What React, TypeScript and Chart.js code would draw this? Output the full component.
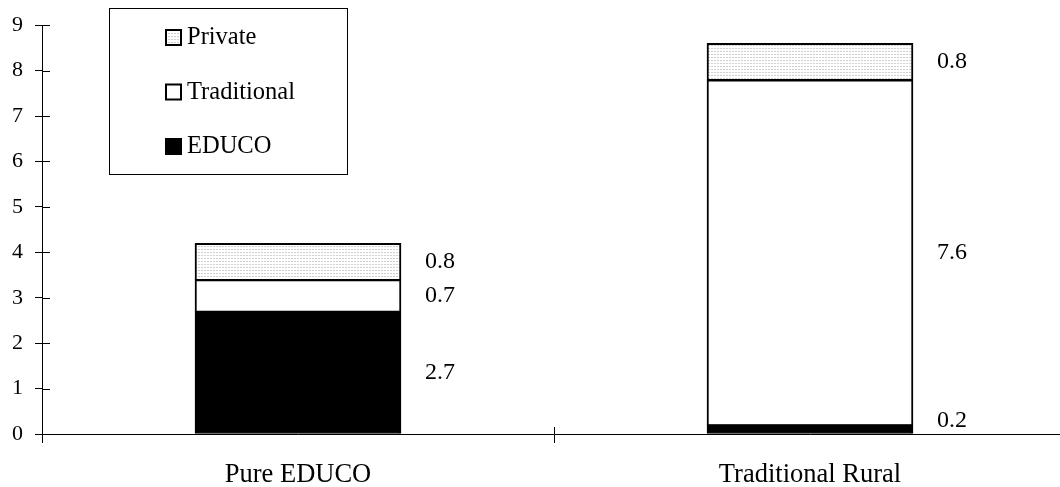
import React, { useEffect, useRef } from "react";
import { Chart, registerables } from "chart.js";

Chart.register(...registerables);

const categories = ["Pure EDUCO", "Traditional Rural"];
const educoValues = [2.7, 0.2];
const traditionalValues = [0.7, 7.6];
const privateValues = [0.8, 0.8];
const seriesNames = ["EDUCO", "Traditional", "Private"];
const yTicks = [0, 1, 2, 3, 4, 5, 6, 7, 8, 9];

const FONT = "'Liberation Serif', 'Times New Roman', serif";

function makePattern(): CanvasPattern | string {
  const c = document.createElement("canvas");
  c.width = 3;
  c.height = 3;
  const g = c.getContext("2d");
  if (!g) return "#eeeeee";
  g.fillStyle = "#ffffff";
  g.fillRect(0, 0, 3, 3);
  g.fillStyle = "#cfcfcf";
  g.fillRect(0, 0, 2, 1);
  const p = g.createPattern(c, "repeat");
  return p || "#eeeeee";
}

export default function App() {
  const ref = useRef<HTMLCanvasElement | null>(null);

  useEffect(() => {
    if (!ref.current) return;
    const pattern = makePattern();
    const fills = ["#000000", "#ffffff", pattern];

    const extraTicks = {
      id: "extraTicks",
      afterDraw(chart: any) {
        const ctx = chart.ctx;
        const area = chart.chartArea;
        const y = chart.scales.y;
        const x = chart.scales.x;
        ctx.save();
        ctx.strokeStyle = "#000";
        ctx.lineWidth = 1;
        ctx.beginPath();
        yTicks.forEach((v) => {
          const py = Math.round(y.getPixelForValue(v)) + 0.5;
          ctx.moveTo(area.left, py);
          ctx.lineTo(area.left + 8, py);
        });
        for (let i = 1; i < categories.length; i++) {
          const px =
            Math.round((x.getPixelForValue(i - 1) + x.getPixelForValue(i)) / 2) + 0.5;
          ctx.moveTo(px, area.bottom);
          ctx.lineTo(px, area.bottom - 7);
        }
        ctx.stroke();
        ctx.restore();
      },
    };

    const valueLabels = {
      id: "valueLabels",
      afterDatasetsDraw(chart: any) {
        const ctx = chart.ctx;
        const area = chart.chartArea;
        ctx.save();
        ctx.font = `24px ${FONT}`;
        ctx.fillStyle = "#000";
        ctx.textAlign = "left";
        ctx.textBaseline = "middle";
        chart.data.datasets.forEach((ds: any, i: number) => {
          const meta = chart.getDatasetMeta(i);
          meta.data.forEach((bar: any, j: number) => {
            const v = ds.data[j];
            const cx = bar.x + bar.width / 2 + 24;
            let cy = (bar.y + bar.base) / 2;
            cy = Math.min(cy, area.bottom - 13);
            ctx.fillText(Number(v).toFixed(1), cx, cy);
          });
        });
        ctx.restore();
      },
    };

    const boxLegend = {
      id: "boxLegend",
      afterDraw(chart: any) {
        const ctx = chart.ctx;
        ctx.save();
        ctx.fillStyle = "#fff";
        ctx.fillRect(109, 8, 238, 166);
        ctx.strokeStyle = "#000";
        ctx.lineWidth = 1;
        ctx.strokeRect(109.5, 8.5, 238, 166);
        const items = chart.data.datasets.slice().reverse();
        items.forEach((ds: any, k: number) => {
          const cy = 37 + k * 54.5;
          ctx.fillStyle = ds.backgroundColor;
          ctx.fillRect(165, cy - 8, 17, 17);
          ctx.strokeStyle = "#000";
          ctx.lineWidth = 2;
          ctx.strokeRect(166, cy - 7, 15, 15);
          ctx.fillStyle = "#000";
          ctx.font = `24.5px ${FONT}`;
          ctx.textAlign = "left";
          ctx.textBaseline = "middle";
          ctx.fillText(ds.label, 187, cy + 1);
        });
        ctx.restore();
      },
    };

    const values = [educoValues, traditionalValues, privateValues];
    const chart = new Chart(ref.current, {
      type: "bar",
      data: {
        labels: categories,
        datasets: seriesNames.map((name, i) => ({
          label: name,
          data: values[i],
          backgroundColor: fills[i] as any,
          borderColor: "#000",
          borderWidth: { top: 2, left: 2, right: 2, bottom: 1 },
          borderSkipped: false,
          barThickness: 206,
        })),
      },
      options: {
        animation: false,
        responsive: false,
        devicePixelRatio: 1,
        layout: { padding: { top: 22, right: 4, left: 0, bottom: 0 } },
        plugins: {
          legend: { display: false },
          tooltip: { enabled: false },
        },
        scales: {
          x: {
            stacked: true,
            grid: {
              offset: true,
              drawOnChartArea: false,
              drawTicks: true,
              tickLength: 9,
              color: "#000",
              lineWidth: 1,
            },
            border: { display: true, color: "#000", width: 1 },
            ticks: {
              color: "#000",
              font: { family: FONT, size: 26.5 },
              padding: 16,
              maxRotation: 0,
            },
            afterFit(scale: any) {
              scale.height = 53;
            },
          },
          y: {
            stacked: true,
            min: 0,
            max: 9,
            ticks: {
              stepSize: 1,
              color: "#000",
              font: { family: FONT, size: 22 },
              padding: 12,
            },
            grid: {
              drawOnChartArea: false,
              drawTicks: true,
              tickLength: 7,
              color: "#000",
              lineWidth: 1,
            },
            border: { display: true, color: "#000", width: 1 },
            afterFit(scale: any) {
              scale.width = 42;
            },
          },
        },
      },
      plugins: [extraTicks, valueLabels, boxLegend],
    });
    return () => chart.destroy();
  }, []);

  return (
    <div
      style={{
        position: "fixed",
        left: 0,
        top: 0,
        width: 1060,
        height: 487,
        overflow: "hidden",
        background: "#fff",
      }}
    >
      <canvas
        ref={ref}
        width={1070}
        height={487}
        style={{ display: "block", width: 1070, height: 487 }}
      />
    </div>
  );
}
